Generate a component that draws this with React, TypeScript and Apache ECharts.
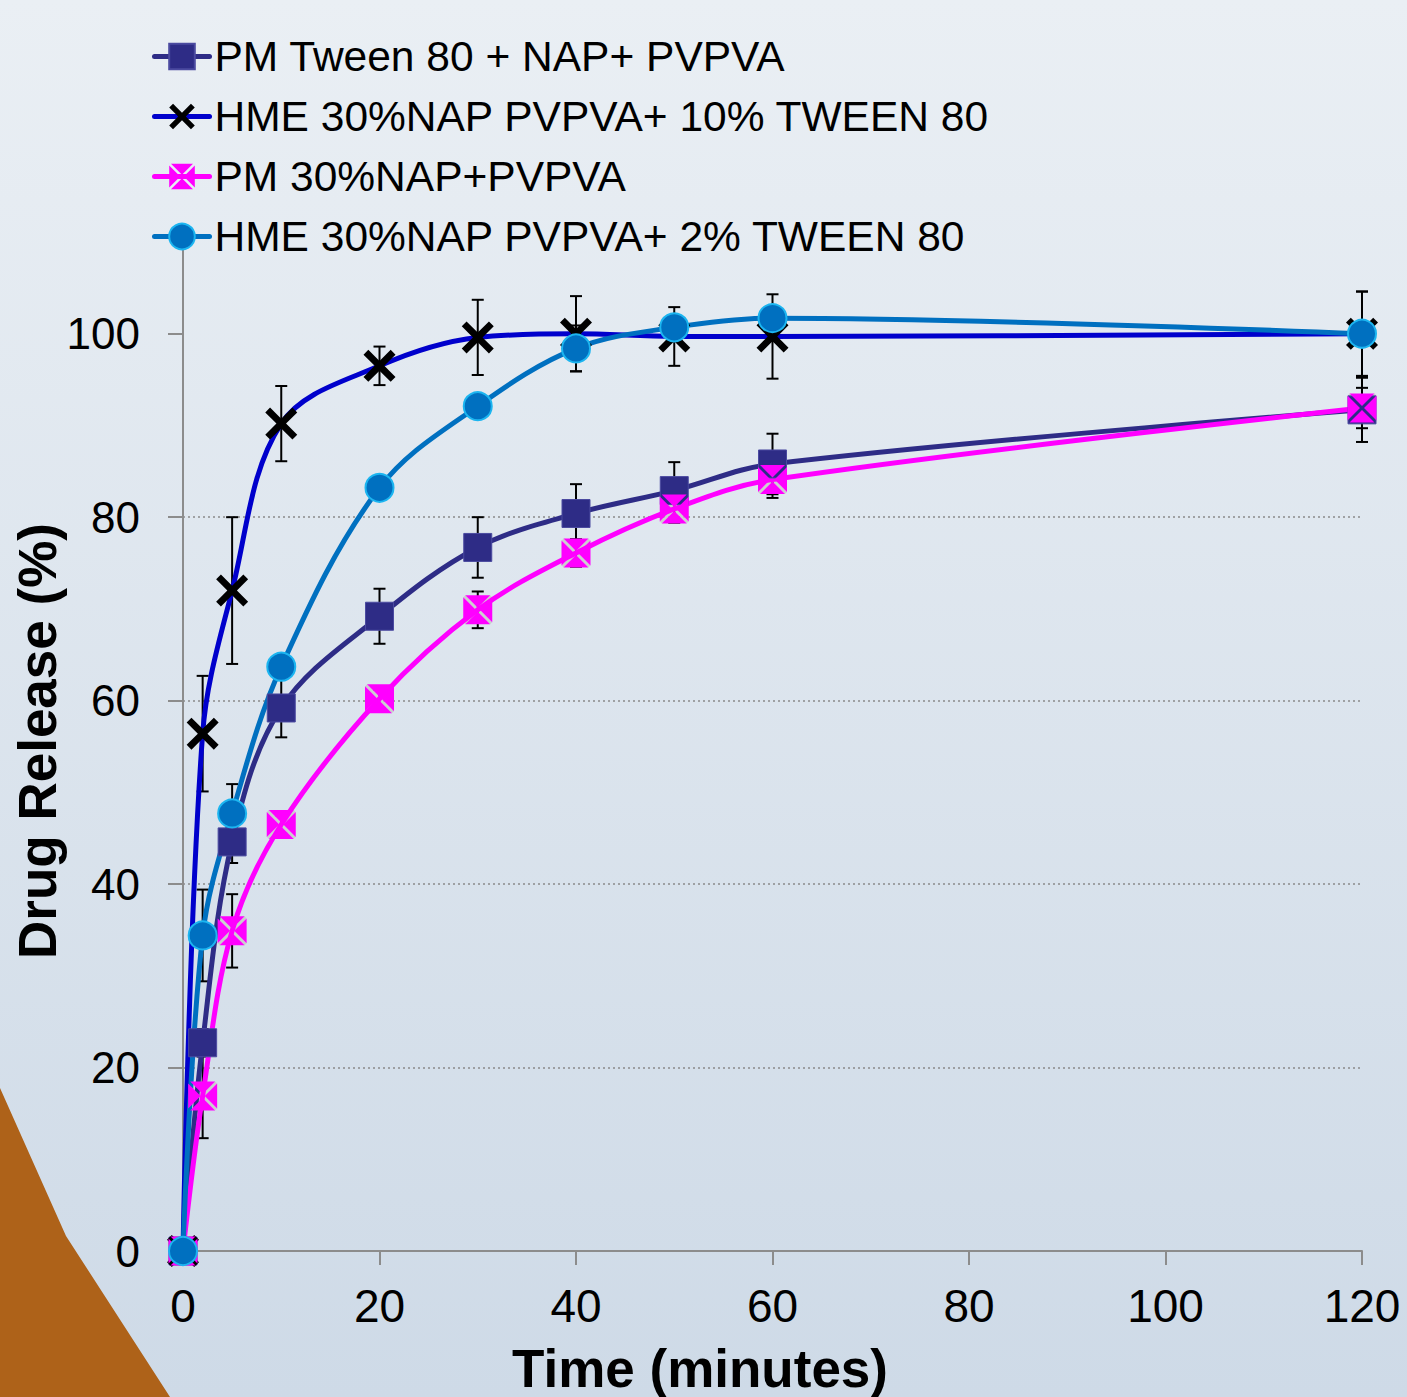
import React, { useEffect, useRef } from "react";
import * as echarts from "echarts";

const times = [0, 2, 5, 10, 20, 30, 40, 50, 60, 120];

const pmTween = [0, 22.7, 44.6, 59.2, 69.2, 76.7, 80.4, 82.9, 85.8, 91.7];
const pmTweenErr = [0, 1.5, 2.3, 3.2, 3.0, 3.3, 3.2, 3.1, 3.3, 3.5];

const hme10 = [0, 56.4, 72.0, 90.2, 96.5, 99.6, 100.0, 99.7, 99.7, 100.0];
const hme10Err = [0, 6.3, 8.0, 4.1, 2.1, 4.1, 4.1, 3.2, 4.6, 4.6];

const pm30 = [0, 16.9, 34.9, 46.5, 60.2, 69.9, 76.1, 80.9, 84.1, 91.9];
const pm30Err = [0, 4.6, 4.0, 1.0, 1.0, 2.0, 1.5, 1.5, 2.0, 2.2];

const hme2 = [0, 34.4, 47.7, 63.7, 83.2, 92.1, 98.4, 100.7, 101.7, 100.0];
const hme2Err = [0, 5.0, 3.2, 1.0, 1.0, 1.0, 2.5, 1.0, 1.0, 4.6];

const seriesNames = [
  "PM Tween 80 + NAP+ PVPVA",
  "HME 30%NAP PVPVA+ 10% TWEEN 80",
  "PM 30%NAP+PVPVA",
  "HME 30%NAP PVPVA+ 2% TWEEN 80",
];

const yTicks = [0, 20, 40, 60, 80, 100];
const xTicks = [0, 20, 40, 60, 80, 100, 120];

const FONT = "'Liberation Sans', Arial, sans-serif";

const X_PATH =
  "path://M0,3 L3,0 L10,7 L17,0 L20,3 L13,10 L20,17 L17,20 L10,13 L3,20 L0,17 L7,10 Z";
const THIN_X_PATH =
  "path://M0,1.5 L1.5,0 L10,8.5 L18.5,0 L20,1.5 L11.5,10 L20,18.5 L18.5,20 L10,11.5 L1.5,20 L0,18.5 L8.5,10 Z";
const SPLIT_SQUARE_PATH =
  "path://M1.4,0 L18.6,0 L10,8.6 Z M20,1.4 L20,18.6 L11.4,10 Z M18.6,20 L1.4,20 L10,11.4 Z M0,18.6 L0,1.4 L8.6,10 Z";

function pairs(vals: number[]) {
  return times.map((t, i) => [t, vals[i]]);
}

function errSeries(vals: number[], errs: number[]) {
  return {
    type: "custom",
    silent: true,
    data: times.map((t, i) => [t, vals[i], errs[i]]),
    encode: { x: 0, y: 1 },
    renderItem: (params: any, api: any) => {
      const x = api.value(0);
      const y = api.value(1);
      const e = api.value(2);
      if (!e) return { type: "group", children: [] };
      const top = api.coord([x, y + e]);
      const bot = api.coord([x, y - e]);
      const hw = 6;
      const style = { stroke: "#000", lineWidth: 2 };
      return {
        type: "group",
        children: [
          { type: "line", shape: { x1: top[0], y1: top[1], x2: bot[0], y2: bot[1] }, style },
          { type: "line", shape: { x1: top[0] - hw, y1: top[1], x2: top[0] + hw, y2: top[1] }, style },
          { type: "line", shape: { x1: bot[0] - hw, y1: bot[1], x2: bot[0] + hw, y2: bot[1] }, style },
        ],
      };
    },
  };
}

export default function App() {
  const ref = useRef<HTMLDivElement>(null);

  useEffect(() => {
    if (!ref.current) return;
    const chart = echarts.init(ref.current, undefined, { renderer: "svg" });
    const smooth = 0.35;
    const option: any = {
      animation: false,
      backgroundColor: "transparent",
      textStyle: { fontFamily: FONT },
      grid: { left: 183, right: 45, top: 242, bottom: 146, containLabel: false },
      legend: {
        data: seriesNames,
        orient: "vertical",
        left: 147,
        top: 30,
        itemWidth: 55,
        itemHeight: 32,
        itemGap: 17,
        selectedMode: false,
        lineStyle: { width: 5, cap: "round" },
        textStyle: { fontSize: 42.5, fontFamily: FONT, color: "#000", lineHeight: 40 },
      },
      xAxis: {
        type: "value",
        min: 0,
        max: 120,
        interval: 20,
        axisLine: { show: true, onZero: false, lineStyle: { color: "#8C8C8C", width: 2 } },
        axisTick: { show: true, length: 14, lineStyle: { color: "#8C8C8C", width: 2 }, customValues: xTicks },
        axisLabel: { fontSize: 46, color: "#000", fontFamily: FONT, margin: 32, customValues: xTicks },
        splitLine: { show: false },
      },
      yAxis: {
        type: "value",
        min: 0,
        max: 110,
        interval: 20,
        axisLine: { show: true, onZero: false, lineStyle: { color: "#8C8C8C", width: 2 } },
        axisTick: { show: true, length: 15, lineStyle: { color: "#8C8C8C", width: 2 }, customValues: yTicks },
        axisLabel: {
          fontSize: 44,
          color: "#000",
          fontFamily: FONT,
          margin: 43,
          customValues: yTicks,
          formatter: (v: number) => (v > 100 ? "" : String(v)),
        },
        splitLine: {
          show: true,
          showMinLine: false,
          showMaxLine: false,
          lineStyle: { color: "#8A8A8A", width: 1.5, type: [2, 3] },
        },
      },
      graphic: [
        {
          type: "polygon",
          z: 0,
          silent: true,
          shape: { points: [[0, 1088], [66, 1236], [170, 1397], [0, 1397]] },
          style: { fill: "#AE6219" },
        },
        {
          type: "text",
          x: 37,
          y: 741,
          rotation: Math.PI / 2,
          style: {
            text: "Drug Release (%)",
            font: `bold 53px ${FONT}`,
            fill: "#000",
            textAlign: "center",
            textVerticalAlign: "middle",
          },
        },
        {
          type: "text",
          x: 700,
          y: 1368,
          style: {
            text: "Time (minutes)",
            font: `bold 53px ${FONT}`,
            fill: "#000",
            textAlign: "center",
            textVerticalAlign: "middle",
          },
        },
      ],
      series: [
        errSeries(pmTween, pmTweenErr),
        {
          name: seriesNames[0],
          type: "line",
          data: pairs(pmTween),
          smooth,
          symbol: "rect",
          symbolSize: 28,
          lineStyle: { color: "#2E2C86", width: 5, cap: "round" },
          itemStyle: { color: "#2E2C86", borderColor: "#4B4AA0", borderWidth: 1 },
          emphasis: { disabled: true },
        },
        errSeries(hme10, hme10Err),
        {
          name: seriesNames[1],
          type: "line",
          data: pairs(hme10),
          smooth,
          symbol: X_PATH,
          symbolSize: 32,
          lineStyle: { color: "#0000CC", width: 5, cap: "round" },
          itemStyle: { color: "#000000" },
          emphasis: { disabled: true },
        },
        errSeries(pm30, pm30Err),
        {
          name: seriesNames[2],
          type: "line",
          data: pairs(pm30),
          smooth,
          symbol: SPLIT_SQUARE_PATH,
          symbolSize: 29,
          lineStyle: { color: "#FF00FF", width: 5, cap: "round" },
          itemStyle: { color: "#FF00FF" },
          emphasis: { disabled: true },
        },
        {
          name: "pm30-marker-cross",
          type: "scatter",
          silent: true,
          data: pairs(pm30),
          symbol: THIN_X_PATH,
          symbolSize: 29,
          itemStyle: { color: "#C8C8C8" },
          emphasis: { disabled: true },
        },
        errSeries(hme2, hme2Err),
        {
          name: seriesNames[3],
          type: "line",
          data: pairs(hme2),
          smooth,
          symbol: "circle",
          symbolSize: 28,
          lineStyle: { color: "#0070C0", width: 5, cap: "round" },
          itemStyle: { color: "#0070C0", borderColor: "#1CB5F0", borderWidth: 2 },
          emphasis: { disabled: true },
        },
      ],
    };
    chart.setOption(option);
    return () => chart.dispose();
  }, []);

  return (
    <div
      ref={ref}
      style={{
        position: "absolute",
        left: 0,
        top: 0,
        width: 1407,
        height: 1397,
        background: "linear-gradient(to bottom, #EAEFF4 0%, #CEDAE7 100%)",
      }}
    />
  );
}
